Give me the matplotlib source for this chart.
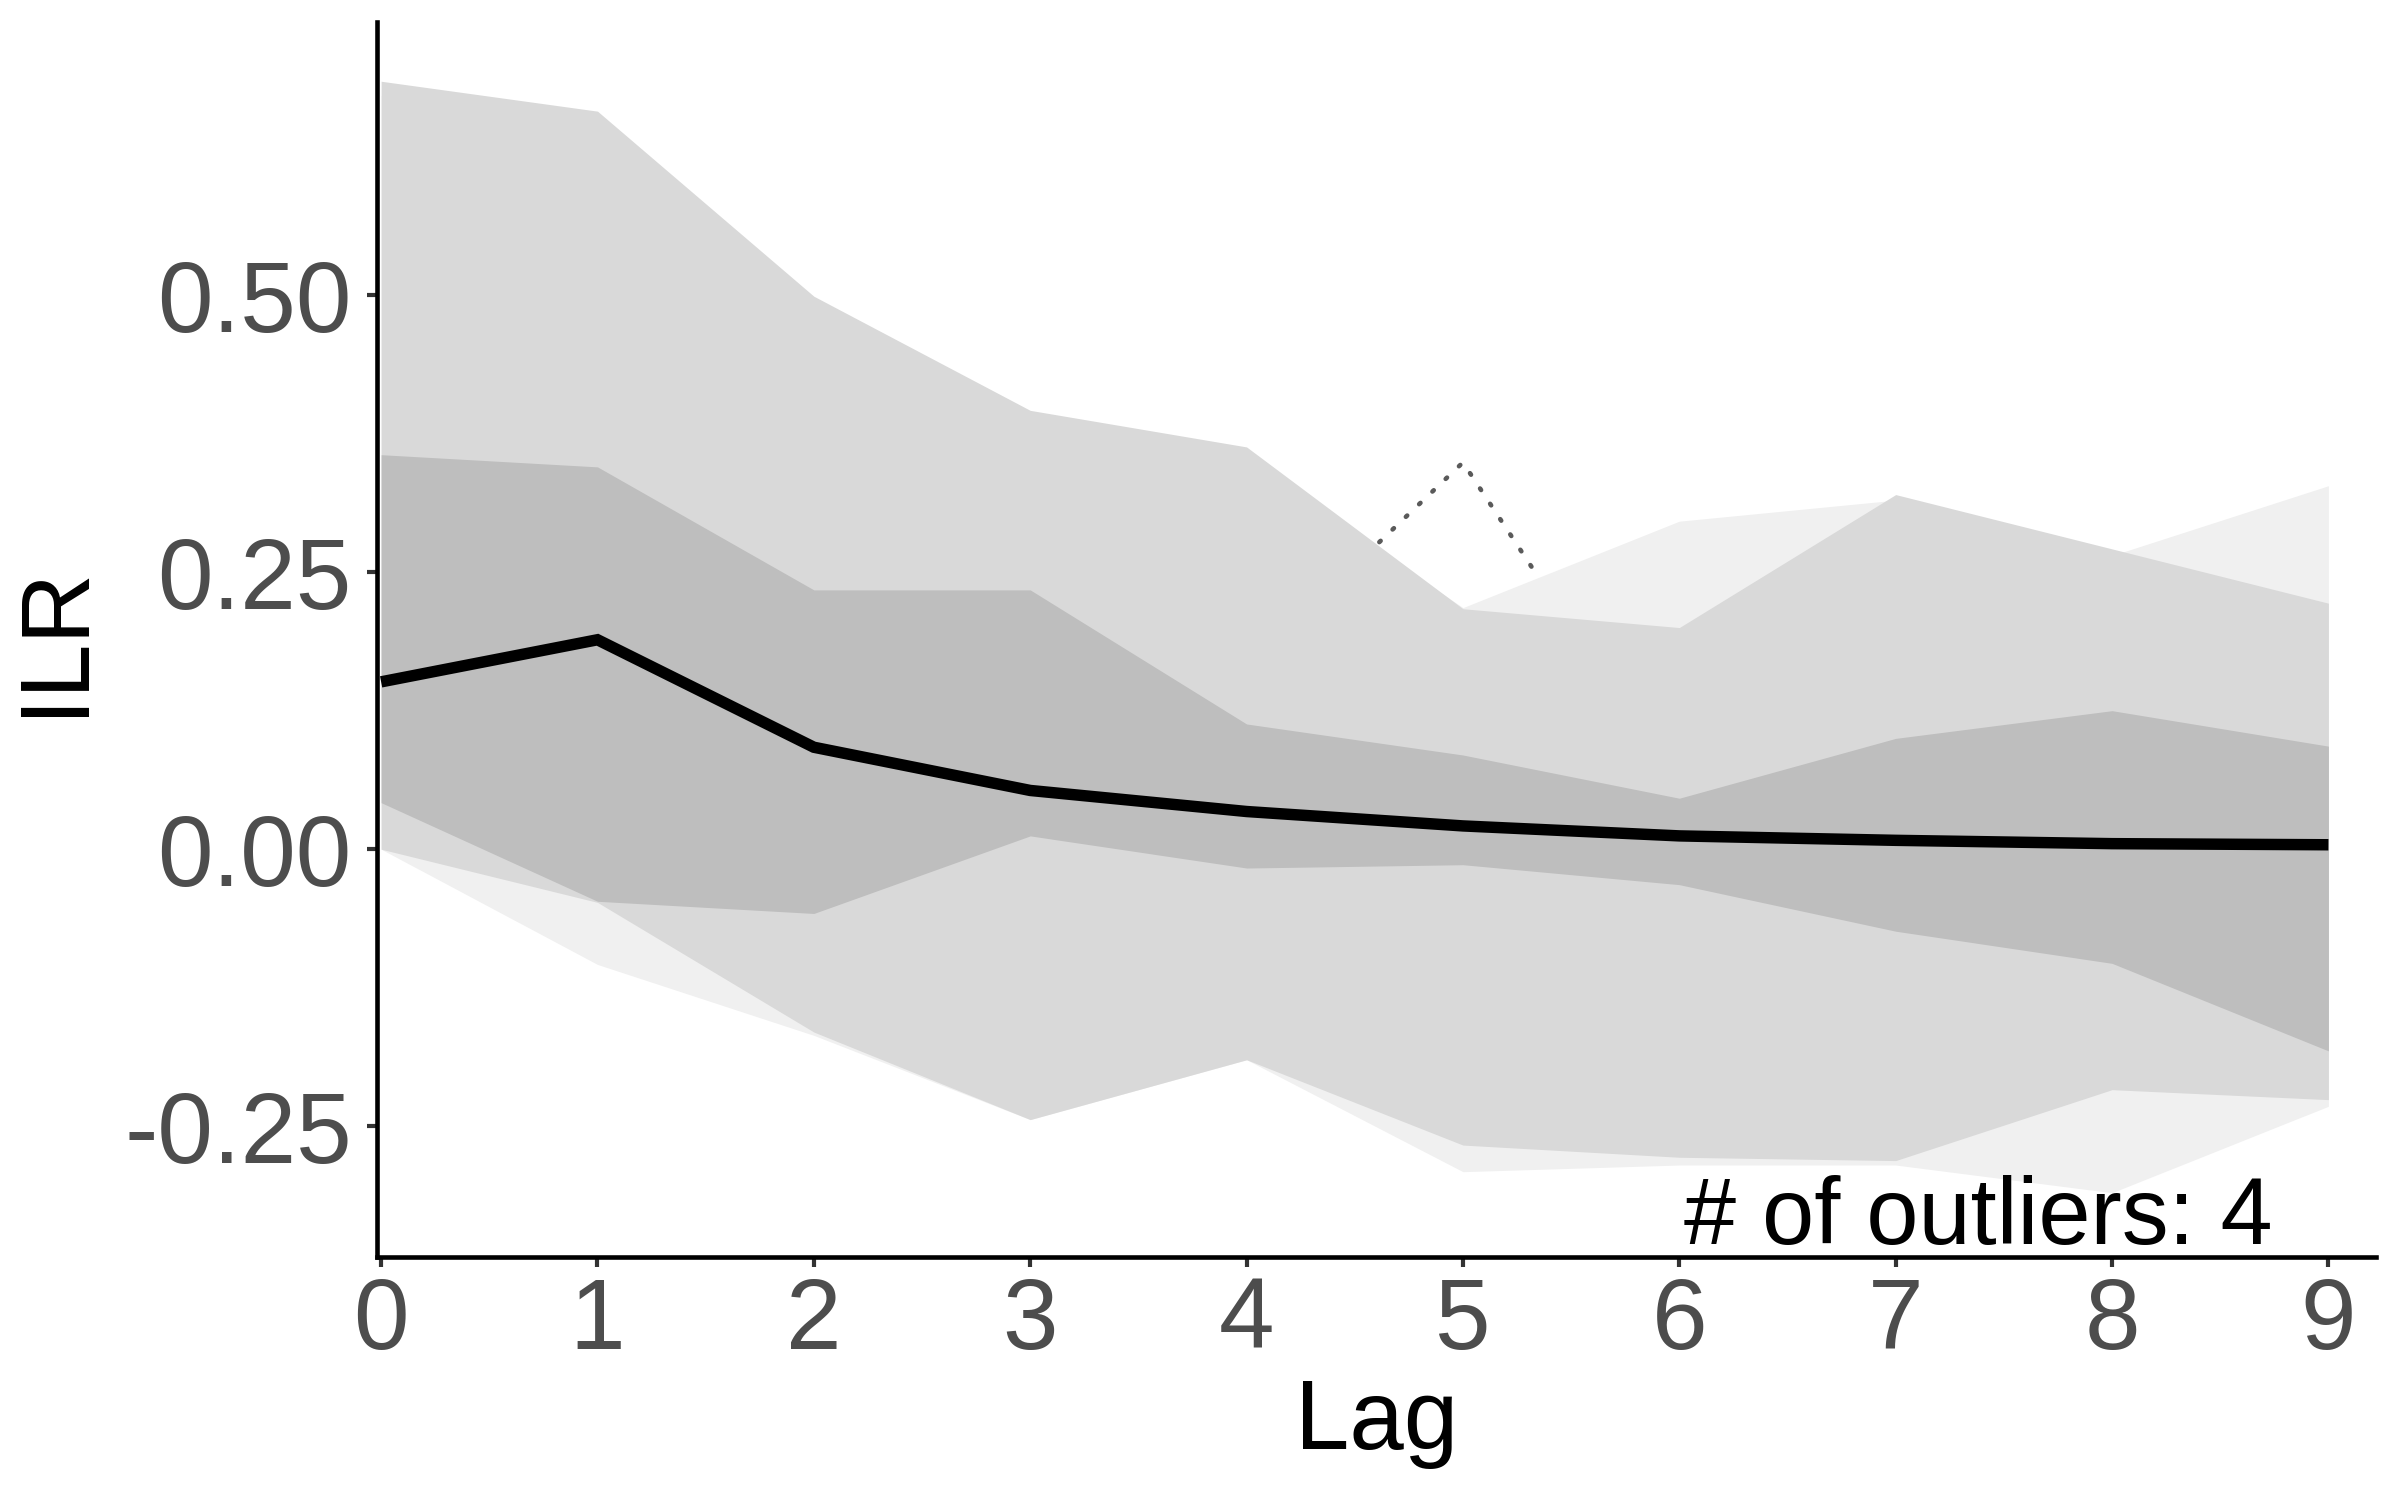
import matplotlib
matplotlib.use("Agg")
import matplotlib.pyplot as plt
import numpy as np

plt.rcParams['font.family'] = ['Liberation Sans', 'DejaVu Sans']

lags = [0, 1, 2, 3, 4, 5, 6, 7, 8, 9]

# median trajectory
median = [0.151, 0.189, 0.092, 0.053, 0.034, 0.021, 0.012, 0.008, 0.005, 0.004]

# inner band
inner_lo = [0.042, -0.047, -0.058, 0.012, -0.017, -0.014, -0.032, -0.074, -0.103, -0.182]
inner_hi = [0.356, 0.345, 0.234, 0.234, 0.113, 0.085, 0.046, 0.100, 0.125, 0.093]

# middle band
mid_lo = [0.000, -0.048, -0.165, -0.244, -0.190, -0.267, -0.278, -0.281, -0.217, -0.226]
mid_hi = [0.693, 0.666, 0.499, 0.396, 0.363, 0.217, 0.200, 0.320, 0.271, 0.222]

# outer band
outer_lo = [0.000, -0.104, -0.168, -0.244, -0.190, -0.291, -0.285, -0.285, -0.310, -0.232]
outer_hi = [0.680, 0.650, 0.490, 0.390, 0.350, 0.218, 0.296, 0.315, 0.265, 0.328]

# the only visible piece of an outlier trajectory
outlier_lags = [4, 5, 6]
outlier_vals = [0.163, 0.349, 0.052]
n_outliers = 4

fig = plt.figure(figsize=(16, 10), dpi=150)
ax = fig.add_axes([0.157, 0.162, 0.833, 0.823])

ax.plot(outlier_lags, outlier_vals, color='#5A5A5A', lw=2.2,
        linestyle=(0, (0.4, 3.6)), dash_capstyle='round', zorder=1)
ax.fill_between(lags, outer_lo, outer_hi, color='#F0F0F0', lw=0, zorder=2)
ax.fill_between(lags, mid_lo, mid_hi, color='#D9D9D9', lw=0, zorder=3)
ax.fill_between(lags, inner_lo, inner_hi, color='#BEBEBE', lw=0, zorder=4)
ax.plot(lags, median, color='black', lw=5.5, solid_joinstyle='miter',
        solid_capstyle='butt', zorder=5)

ax.text(8.74, -0.356, f"# of outliers: {n_outliers}", ha='right', va='baseline',
        fontsize=45, color='black', zorder=6)

ax.set_xlim(-0.02, 9.22)
ax.set_ylim(-0.368, 0.746)
ax.set_xticks(lags)
ax.set_yticks([-0.25, 0.0, 0.25, 0.50])
ax.set_yticklabels(['-0.25', '0.00', '0.25', '0.50'])

for side in ['top', 'right']:
    ax.spines[side].set_visible(False)
for side in ['left', 'bottom']:
    ax.spines[side].set_linewidth(2.2)
    ax.spines[side].set_color('black')

ax.tick_params(axis='both', length=5, width=2, color='#333333',
               labelsize=48, labelcolor='#4D4D4D')
ax.tick_params(axis='y', pad=7)
ax.tick_params(axis='x', pad=4)

ax.set_xlabel('Lag', fontsize=47, labelpad=4)
ax.set_ylabel('ILR', fontsize=47, labelpad=11)

fig.savefig('out.png', dpi=150, facecolor='white')
